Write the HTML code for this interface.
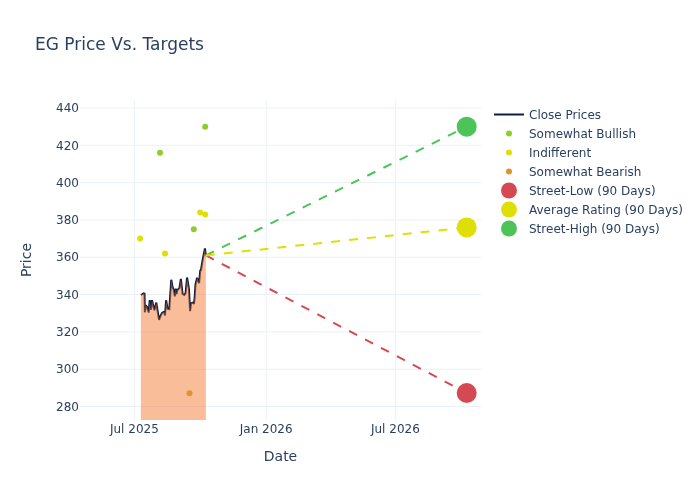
<!DOCTYPE html>
<html><head><meta charset="utf-8"><title>EG Price Vs. Targets</title>
<style>
html,body{margin:0;padding:0;background:#fff;}
body{width:700px;height:500px;overflow:hidden;}
svg{display:block;}
svg text{font-family:"DejaVu Sans","Liberation Sans",sans-serif;fill:#2a3f5f;white-space:pre;}
</style></head><body>
<svg width="700" height="500" viewBox="0 0 700 500">
<rect x="0" y="0" width="700" height="500" fill="#ffffff"/>
<defs><clipPath id="plotclip"><rect x="80" y="100" width="401" height="320"/></clipPath></defs>
<g class="grid">
<path d="M134.40,100V420" stroke="#ebf0f8" stroke-width="1" fill="none"/>
<path d="M266.20,100V420" stroke="#ebf0f8" stroke-width="1" fill="none"/>
<path d="M395.65,100V420" stroke="#ebf0f8" stroke-width="1" fill="none"/>
<path d="M80,406.56H481" stroke="#ebf0f8" stroke-width="1" fill="none"/>
<path d="M80,369.24H481" stroke="#ebf0f8" stroke-width="1" fill="none"/>
<path d="M80,331.92H481" stroke="#ebf0f8" stroke-width="1" fill="none"/>
<path d="M80,294.60H481" stroke="#ebf0f8" stroke-width="1" fill="none"/>
<path d="M80,257.28H481" stroke="#ebf0f8" stroke-width="1" fill="none"/>
<path d="M80,219.96H481" stroke="#ebf0f8" stroke-width="1" fill="none"/>
<path d="M80,182.64H481" stroke="#ebf0f8" stroke-width="1" fill="none"/>
<path d="M80,145.32H481" stroke="#ebf0f8" stroke-width="1" fill="none"/>
<path d="M80,108.00H481" stroke="#ebf0f8" stroke-width="1" fill="none"/>
</g>
<g clip-path="url(#plotclip)">
<path d="M140.85,294.80L142.00,294.30L143.60,293.40L144.50,293.70L144.90,312.30L145.70,305.30L147.10,307.00L148.70,312.60L149.70,300.20L150.90,310.00L152.00,300.20L154.40,310.20L156.30,302.60L157.20,308.50L159.10,319.90L160.30,316.40L162.00,313.00L163.40,312.20L164.30,311.80L165.00,315.50L166.10,300.20L167.60,308.80L169.30,309.20L171.25,279.80L172.60,287.10L173.70,289.70L174.90,296.30L175.80,288.70L176.60,294.20L177.20,290.30L179.40,288.30L180.85,278.90L182.60,294.00L184.30,295.00L185.60,293.20L187.05,277.50L188.90,288.50L190.10,311.20L191.00,303.40L192.80,302.60L194.00,303.80L194.70,297.00L195.50,284.40L197.10,277.80L199.10,283.10L200.30,269.80L200.80,271.00L203.00,258.00L204.95,248.40L205.85,255.40" fill="none" stroke="#0c1d42" stroke-width="2" stroke-miterlimit="2"/>
<path d="M140.85,294.80L142.00,294.30L143.60,293.40L144.50,293.70L144.90,312.30L145.70,305.30L147.10,307.00L148.70,312.60L149.70,300.20L150.90,310.00L152.00,300.20L154.40,310.20L156.30,302.60L157.20,308.50L159.10,319.90L160.30,316.40L162.00,313.00L163.40,312.20L164.30,311.80L165.00,315.50L166.10,300.20L167.60,308.80L169.30,309.20L171.25,279.80L172.60,287.10L173.70,289.70L174.90,296.30L175.80,288.70L176.60,294.20L177.20,290.30L179.40,288.30L180.85,278.90L182.60,294.00L184.30,295.00L185.60,293.20L187.05,277.50L188.90,288.50L190.10,311.20L191.00,303.40L192.80,302.60L194.00,303.80L194.70,297.00L195.50,284.40L197.10,277.80L199.10,283.10L200.30,269.80L200.80,271.00L203.00,258.00L204.95,248.40L205.85,255.40L205.85,420L140.85,420Z" fill="#f37b35" fill-opacity="0.5" stroke="none"/>
<circle cx="160.00" cy="152.80" r="3" fill="#8fcd2c"/>
<circle cx="205.20" cy="126.70" r="3" fill="#8fcd2c"/>
<circle cx="193.80" cy="229.30" r="3" fill="#8fcd2c"/>
<circle cx="140.10" cy="238.60" r="3" fill="#dfdf08"/>
<circle cx="165.00" cy="253.50" r="3" fill="#dfdf08"/>
<circle cx="200.20" cy="212.50" r="3" fill="#dfdf08"/>
<circle cx="205.20" cy="214.40" r="3" fill="#dfdf08"/>
<circle cx="189.50" cy="393.30" r="3" fill="#dc962a"/>
<path d="M205.85,255.4L466.7,393.00" stroke="#d54953" stroke-width="2" stroke-dasharray="9,9" fill="none"/>
<path d="M205.85,255.4L466.7,126.66" stroke="#4dc45a" stroke-width="2" stroke-dasharray="9,9" fill="none"/>
<path d="M205.85,255.4L466.7,227.42" stroke="#dfdf08" stroke-width="2" stroke-dasharray="9,9" fill="none"/>
</g>
<circle cx="466.7" cy="393.00" r="10" fill="#d54953"/>
<circle cx="466.7" cy="227.42" r="10" fill="#dfdf08"/>
<circle cx="466.7" cy="126.66" r="10" fill="#4dc45a"/>
<text x="134.40" y="433" text-anchor="middle" font-size="12">Jul 2025</text>
<text x="266.20" y="433" text-anchor="middle" font-size="12">Jan 2026</text>
<text x="395.40" y="433" text-anchor="middle" font-size="12">Jul 2026</text>
<text x="79" y="410.76" text-anchor="end" font-size="12">280</text>
<text x="79" y="373.44" text-anchor="end" font-size="12">300</text>
<text x="79" y="336.12" text-anchor="end" font-size="12">320</text>
<text x="79" y="298.80" text-anchor="end" font-size="12">340</text>
<text x="79" y="261.48" text-anchor="end" font-size="12">360</text>
<text x="79" y="224.16" text-anchor="end" font-size="12">380</text>
<text x="79" y="186.84" text-anchor="end" font-size="12">400</text>
<text x="79" y="149.52" text-anchor="end" font-size="12">420</text>
<text x="79" y="112.20" text-anchor="end" font-size="12">440</text>
<text x="35" y="50" font-size="17">EG Price Vs. Targets</text>
<text x="280.5" y="461" text-anchor="middle" font-size="14">Date</text>
<text transform="rotate(-90,31,260)" x="31" y="260" text-anchor="middle" font-size="14">Price</text>
<path d="M494,114.5H524" stroke="#0c1d42" stroke-width="2" fill="none"/>
<text x="529" y="118.70" font-size="12">Close Prices</text>
<circle cx="509" cy="133.5" r="3" fill="#8fcd2c"/>
<text x="529" y="137.70" font-size="12">Somewhat Bullish</text>
<circle cx="509" cy="152.5" r="3" fill="#dfdf08"/>
<text x="529" y="156.70" font-size="12">Indifferent</text>
<circle cx="509" cy="171.5" r="3" fill="#dc962a"/>
<text x="529" y="175.70" font-size="12">Somewhat Bearish</text>
<circle cx="509" cy="190.5" r="8" fill="#d54953"/>
<text x="529" y="194.70" font-size="12">Street-Low (90 Days)</text>
<circle cx="509" cy="209.5" r="8" fill="#dfdf08"/>
<text x="529" y="213.70" font-size="12">Average Rating (90 Days)</text>
<circle cx="509" cy="228.5" r="8" fill="#4dc45a"/>
<text x="529" y="232.70" font-size="12">Street-High (90 Days)</text>
</svg>
</body></html>
